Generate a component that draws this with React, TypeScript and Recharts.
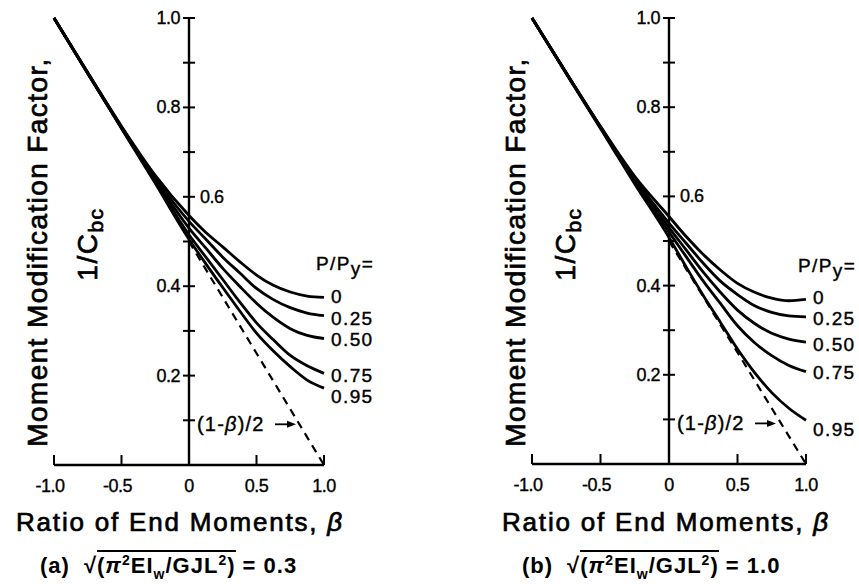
import React from 'react';
import { LineChart, Line, XAxis, YAxis, ReferenceLine, ReferenceDot, LabelList } from 'recharts';

const BETA = [-1, -0.75, -0.5, -0.25, 0, 0.125, 0.25, 0.375, 0.5, 0.625, 0.75, 0.875, 1];
// dashed reference line (1-beta)/2, drawn only for beta >= 0
const LINEAR = [null, null, null, null, 0.5, 0.4375, 0.375, 0.3125, 0.25, 0.1875, 0.125, 0.0625, 0];
const LOAD_LABELS = ['0', '0.25', '0.50', '0.75', '0.95'];

// (a) sqrt(pi^2 EIw / GJL^2) = 0.3
const A_P000 = [1, 0.878, 0.758, 0.648, 0.558, 0.52, 0.488, 0.455, 0.425, 0.402, 0.387, 0.378, 0.375];
const A_P025 = [1, 0.877, 0.756, 0.642, 0.545, 0.505, 0.465, 0.43, 0.395, 0.37, 0.352, 0.34, 0.334];
const A_P050 = [1, 0.877, 0.755, 0.638, 0.53, 0.485, 0.44, 0.4, 0.362, 0.33, 0.305, 0.29, 0.283];
const A_P075 = [1, 0.876, 0.754, 0.634, 0.515, 0.465, 0.415, 0.365, 0.318, 0.28, 0.245, 0.222, 0.205];
const A_P095 = [1, 0.876, 0.753, 0.63, 0.505, 0.45, 0.397, 0.345, 0.295, 0.255, 0.22, 0.19, 0.172];

// (b) sqrt(pi^2 EIw / GJL^2) = 1.0
const B_P000 = [1, 0.877, 0.757, 0.645, 0.555, 0.51, 0.47, 0.435, 0.405, 0.385, 0.372, 0.366, 0.369];
const B_P025 = [1, 0.877, 0.756, 0.64, 0.54, 0.495, 0.45, 0.41, 0.38, 0.355, 0.34, 0.332, 0.33];
const B_P050 = [1, 0.876, 0.755, 0.636, 0.53, 0.48, 0.43, 0.385, 0.345, 0.315, 0.293, 0.28, 0.273];
const B_P075 = [1, 0.876, 0.754, 0.632, 0.52, 0.465, 0.41, 0.36, 0.31, 0.272, 0.243, 0.221, 0.207];
const B_P095 = [1, 0.875, 0.752, 0.628, 0.508, 0.442, 0.378, 0.318, 0.258, 0.205, 0.16, 0.125, 0.098];

const Y_TICKS = [0.1, 0.2, 0.3, 0.4, 0.5, 0.6, 0.7, 0.8, 0.9, 1.0];
const Y_LABELED = [0.2, 0.4, 0.8, 1.0];
const X_TICKS = [-1, -0.5, 0, 0.5, 1];

const FONT = "'Liberation Sans', Arial, Helvetica, sans-serif";
const KEYS = ['p0', 'p25', 'p50', 'p75', 'p95'];
const W = 430;
const H = 584;
const XH = 30;
const YW = 1;

const buildRows = (series: number[][]) =>
  BETA.map((b, i) => {
    const row: any = { beta: b, lin: LINEAR[i] };
    KEYS.forEach((k, j) => (row[k] = series[j][i]));
    return row;
  });

const tickText = { fontSize: 18, letterSpacing: -0.5, fontFamily: FONT, fill: '#000', stroke: '#000', strokeWidth: 0.35 };
const heavy = { WebkitTextStroke: '0.7px #000' } as any;

function Panel(props: any) {
  const { left, plotWidth, plotBottom, series, labelDy, letter, value, xTitleX, sub } = props;
  const plotLeft = 54;
  const plotTop = 18;
  const axisX = plotLeft + plotWidth / 2;
  const last = BETA.length - 1;
  const data = buildRows(series);

  const yTick = ({ y, payload }: any) => {
    const v = Number(payload.value);
    const r = Math.round(v * 10) / 10;
    return (
      <g>
        <line x1={axisX - 6} x2={axisX + 6} y1={y} y2={y} stroke="#000" strokeWidth={2} />
        {Y_LABELED.includes(r) && (
          <text x={axisX - 9} y={y} textAnchor="end" dominantBaseline="central" {...tickText}>
            {r.toFixed(1)}
          </text>
        )}
        {r === 0.6 && (
          <text x={axisX + 11} y={y} textAnchor="start" dominantBaseline="central" {...tickText}>
            0.6
          </text>
        )}
      </g>
    );
  };

  const xTick = ({ x, y, payload }: any) => {
    const v = Number(payload.value);
    return (
      <g>
        <line x1={x} x2={x} y1={y} y2={y - 10} stroke="#000" strokeWidth={2} />
        <text x={v < 0 ? x - 4 : x} y={y + 21} textAnchor="middle" dominantBaseline="central" {...tickText}>
          {v === 0 ? '0' : v.toFixed(1)}
        </text>
      </g>
    );
  };

  const endLabel = (text: string, dy: number, header: boolean) => (p: any) => {
    if (p.index !== last) return null;
    const x = Number(p.x) + 7;
    const y = Number(p.y);
    return (
      <g fontFamily={FONT} fontSize={19} letterSpacing={1.4} fill="#000" stroke="#000" strokeWidth={0.4}>
        {header && (
          <text x={x - 15} y={y - 27}>
            P/P<tspan dy={5}>y</tspan>
            <tspan dy={-5}>=</tspan>
          </text>
        )}
        <text x={x} y={y + dy} dominantBaseline="central">
          {text}
        </text>
      </g>
    );
  };

  const annot = (p: any) => {
    const vb = p.viewBox || {};
    const x = Number(vb.x);
    const y = Number(vb.y) + 4;
    return (
      <g>
        <text x={x + 8} y={y} dominantBaseline="central" fontFamily={FONT} fontSize={20} letterSpacing={1.2} fill="#000" stroke="#000" strokeWidth={0.4}>
          (1-<tspan fontStyle="italic">β</tspan>)/2
        </text>
        <line x1={x + 86} x2={x + 101} y1={y} y2={y} stroke="#000" strokeWidth={1.8} />
        <polygon points={`${x + 107},${y} ${x + 98},${y - 3.5} ${x + 98},${y + 3.5}`} fill="#000" />
      </g>
    );
  };

  return (
    <>
      <div style={{ position: 'absolute', left, top: 0 }}>
        <LineChart
          width={W}
          height={H}
          data={data}
          margin={{ top: plotTop, left: plotLeft - YW, right: W - plotLeft - plotWidth, bottom: H - plotBottom - XH }}
        >
          <XAxis
            dataKey="beta"
            type="number"
            domain={[-1, 1]}
            ticks={X_TICKS}
            height={XH}
            tickSize={0}
            tickMargin={0}
            tickLine={false}
            axisLine={{ stroke: '#000', strokeWidth: 2.4 }}
            tick={xTick}
            interval={0}
          />
          <YAxis
            type="number"
            domain={[0, 1]}
            ticks={Y_TICKS}
            width={YW}
            tickSize={0}
            tickMargin={0}
            tickLine={false}
            axisLine={false}
            tick={yTick}
            interval={0}
          />
          <ReferenceLine x={0} stroke="#000" strokeWidth={2.4} />
          <Line
            dataKey="lin"
            type="linear"
            stroke="#000"
            strokeWidth={2.2}
            strokeDasharray="8 6"
            dot={false}
            connectNulls={false}
            isAnimationActive={false}
          />
          {KEYS.map((k, j) => (
            <Line
              key={k}
              dataKey={k}
              type="monotone"
              stroke="#000"
              strokeWidth={2.8}
              dot={false}
              isAnimationActive={false}
            >
              <LabelList dataKey={k} content={endLabel(LOAD_LABELS[j], labelDy[j], j === 0)} />
            </Line>
          ))}
          <ReferenceDot x={0} y={0.1} r={0} fill="none" stroke="none" label={annot} />
        </LineChart>
      </div>
      <div
        style={{
          position: 'absolute',
          left: left + 38,
          top: 252,
          transform: 'translate(-50%, -50%) rotate(-90deg)',
          whiteSpace: 'nowrap',
          fontSize: 28,
          letterSpacing: 1.4,
          lineHeight: 1,
          ...heavy,
        }}
      >
        Moment Modification Factor,
      </div>
      <div
        style={{
          position: 'absolute',
          left: left + 88,
          top: 244,
          transform: 'translate(-50%, -50%) rotate(-90deg)',
          whiteSpace: 'nowrap',
          fontSize: 28,
          letterSpacing: 1.5,
          lineHeight: 1,
          ...heavy,
        }}
      >
        1/C<span style={{ position: 'relative', top: '0.3em', fontSize: '0.75em' }}>bc</span>
      </div>
      <div
        style={{
          position: 'absolute',
          left: xTitleX,
          top: 522,
          transform: 'translate(-50%, -50%)',
          whiteSpace: 'nowrap',
          fontSize: 26,
          letterSpacing: 1.8,
          lineHeight: 1,
          ...heavy,
        }}
      >
        Ratio of End Moments, <i>β</i>
      </div>
      <div
        style={{
          position: 'absolute',
          left: sub,
          top: 553,
          whiteSpace: 'nowrap',
          fontSize: 22,
          letterSpacing: 1,
          fontWeight: 'bold',
          lineHeight: '26px',
        }}
      >
        <span>({letter})</span>
        <span style={{ marginLeft: 14 }}>√</span>
        <span style={{ borderTop: '2px solid #000', paddingTop: 1 }}>
          (<i>π</i>
          <span style={{ position: 'relative', top: -8, fontSize: 14 }}>2</span>EI
          <span style={{ position: 'relative', top: 6, fontSize: 14 }}>w</span>/GJL
          <span style={{ position: 'relative', top: -8, fontSize: 14 }}>2</span>)
        </span>
        <span> = {value}</span>
      </div>
    </>
  );
}

export default function App() {
  return (
    <div
      style={{
        position: 'fixed',
        left: 0,
        top: 0,
        width: 859,
        height: 584,
        overflow: 'hidden',
        background: '#fff',
        color: '#000',
        fontFamily: FONT,
      }}
    >
      <Panel
        left={0}
        plotWidth={270}
        plotBottom={465}
        series={[A_P000, A_P025, A_P050, A_P075, A_P095]}
        labelDy={[-1, 3, 1, 2, 8]}
        letter="a"
        value="0.3"
        xTitleX={180}
        sub={40}
      />
      <Panel
        left={478}
        plotWidth={274}
        plotBottom={464}
        series={[B_P000, B_P025, B_P050, B_P075, B_P095]}
        labelDy={[-2, 2, 2, 1, 9]}
        letter="b"
        value="1.0"
        xTitleX={666}
        sub={522}
      />
    </div>
  );
}
